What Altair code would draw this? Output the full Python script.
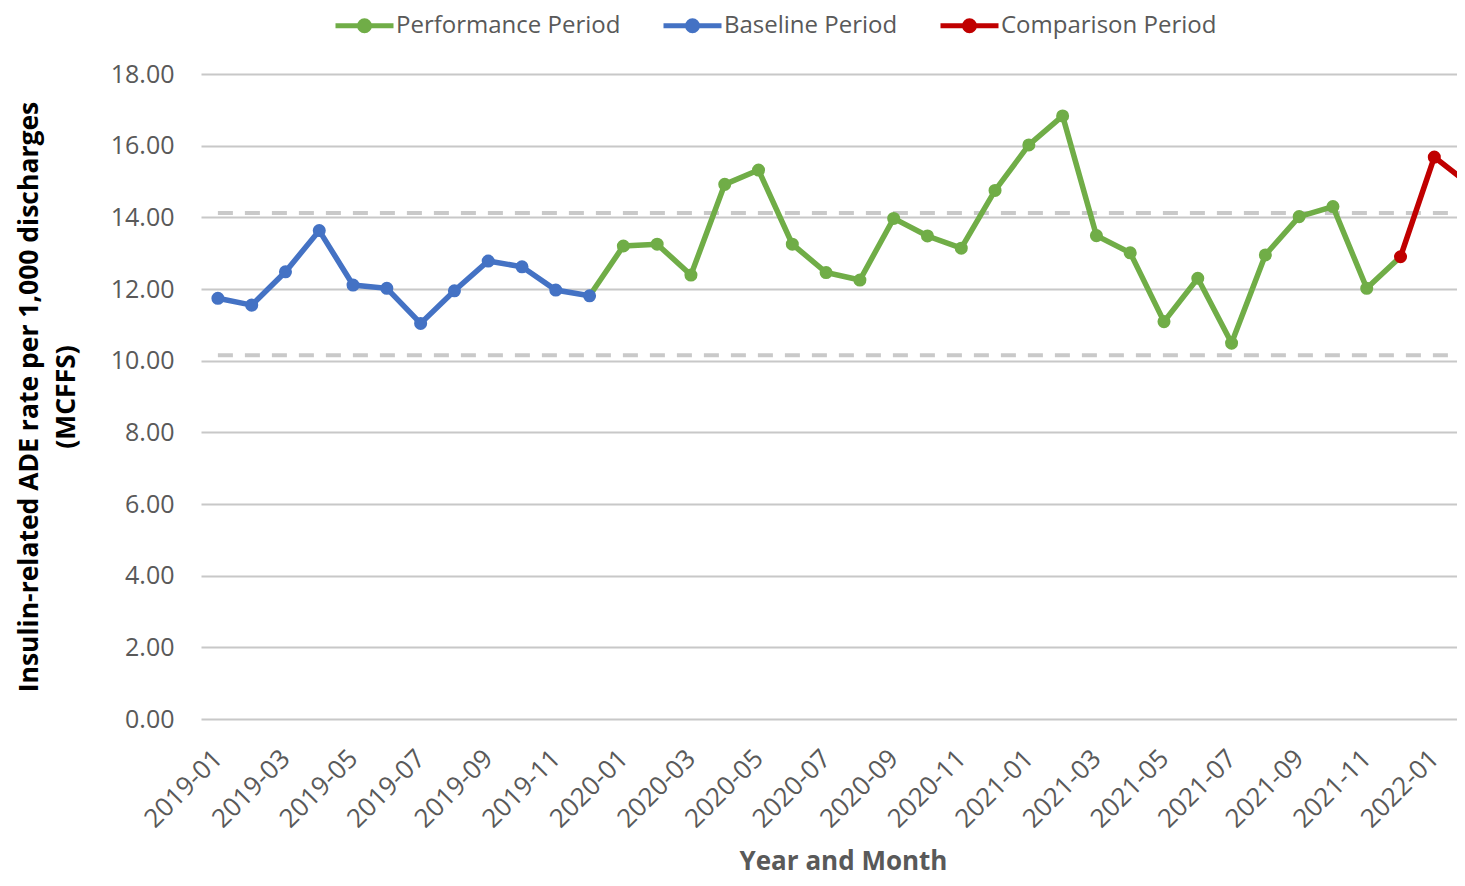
import altair as alt
import pandas as pd

# ---------------- data ----------------
all_months = [
    "2019-01", "2019-02", "2019-03", "2019-04", "2019-05", "2019-06",
    "2019-07", "2019-08", "2019-09", "2019-10", "2019-11", "2019-12",
    "2020-01", "2020-02", "2020-03", "2020-04", "2020-05", "2020-06",
    "2020-07", "2020-08", "2020-09", "2020-10", "2020-11", "2020-12",
    "2021-01", "2021-02", "2021-03", "2021-04", "2021-05", "2021-06",
    "2021-07", "2021-08", "2021-09", "2021-10", "2021-11", "2021-12",
    "2022-01", "2022-02",
]
x_tick_labels = [
    "2019-01", "2019-03", "2019-05", "2019-07", "2019-09", "2019-11",
    "2020-01", "2020-03", "2020-05", "2020-07", "2020-09", "2020-11",
    "2021-01", "2021-03", "2021-05", "2021-07", "2021-09", "2021-11",
    "2022-01",
]
y_ticks = [0, 2, 4, 6, 8, 10, 12, 14, 16, 18]

baseline_months = ["2019-01", "2019-02", "2019-03", "2019-04", "2019-05", "2019-06",
                   "2019-07", "2019-08", "2019-09", "2019-10", "2019-11", "2019-12"]
baseline_values = [11.74, 11.55, 12.48, 13.63, 12.11, 12.02,
                   11.04, 11.95, 12.78, 12.62, 11.97, 11.81]

performance_months = ["2020-01", "2020-02", "2020-03", "2020-04", "2020-05", "2020-06",
                      "2020-07", "2020-08", "2020-09", "2020-10", "2020-11", "2020-12",
                      "2021-01", "2021-02", "2021-03", "2021-04", "2021-05", "2021-06",
                      "2021-07", "2021-08", "2021-09", "2021-10", "2021-11"]
performance_values = [13.20, 13.25, 12.39, 14.92, 15.32, 13.25,
                      12.46, 12.25, 13.97, 13.48, 13.14, 14.75,
                      16.02, 16.83, 13.49, 13.01, 11.09, 12.30,
                      10.49, 12.95, 14.02, 14.30, 12.02]

comparison_months = ["2021-12", "2022-01", "2022-02"]
comparison_values = [12.90, 15.68, 14.95]

upper_limit = 14.12
lower_limit = 10.15

period_order = ["Performance Period", "Baseline Period", "Comparison Period"]
period_colors = ["#70ad47", "#4472c4", "#c00000"]

# ---------------- frames ----------------
def frame(ms, vs, p):
    return pd.DataFrame({"month": ms, "value": vs, "period": p})

base_df = frame(baseline_months, baseline_values, "Baseline Period")
perf_df = frame(performance_months, performance_values, "Performance Period")
comp_df = frame(comparison_months, comparison_values, "Comparison Period")
perf_line_df = pd.concat([
    base_df.tail(1).assign(period="Performance Period"),
    perf_df,
    comp_df.head(1).assign(period="Performance Period"),
], ignore_index=True)

limits_df = pd.DataFrame(
    [{"month": m, "value": v, "limit": name}
     for name, v in [("upper", upper_limit), ("lower", lower_limit)]
     for m in all_months]
)

FONT = "Open Sans"
GRAY = "#595959"
PLOT_W = 1256
FULL_W = 1284
PLOT_H = 645

x_enc = alt.X(
    "month:O",
    sort=all_months,
    scale=alt.Scale(domain=all_months, range=[0, FULL_W]),
    axis=alt.Axis(
        values=x_tick_labels, labelAngle=-45, labelAlign="right", labelBaseline="middle",
        labelFont=FONT, labelFontSize=26, labelColor=GRAY, labelPadding=35,
        ticks=False, domain=False, grid=False,
        title="Year and Month", titleFont=FONT, titleFontSize=26, titleFontWeight="bold",
        titleColor=GRAY, titleX=642, titleY=150, titleAlign="center",
        titleBaseline="alphabetic",
    ),
)
y_enc = alt.Y(
    "value:Q",
    scale=alt.Scale(domain=[0, 18], nice=False),
    axis=alt.Axis(
        values=y_ticks, format=".2f", gridColor="#c8c8c8", gridWidth=2,
        domain=False, ticks=False,
        labelFont=FONT, labelFontSize=25, labelColor=GRAY, labelPadding=27,
        title=["Insulin-related ADE rate per 1,000 discharges", "(MCFFS)"],
        titleFont=FONT, titleFontSize=26.5, titleFontWeight="bold", titleColor="black",
        titlePadding=30, titleLineHeight=37,
    ),
)

SYMBOL = "M-1,0L1,0M-0.17,0A0.17,0.17,0,1,1,0.17,0A0.17,0.17,0,1,1,-0.17,0Z"
legend_kwargs = dict(
    orient="none", legendX=132, legendY=-80, direction="horizontal", columns=3,
    title=None, symbolType=SYMBOL, symbolSize=3364, symbolStrokeWidth=5,
    labelFont=FONT, labelFontSize=24, labelColor=GRAY, labelOffset=0, labelLimit=0,
    columnPadding=32, symbolOpacity=1,
)
legend_encode = {"symbols": {"update": {
    "fill": {"scale": "color", "field": "value"},
    "stroke": {"scale": "color", "field": "value"},
    "opacity": {"value": 1},
}}}


def build(use_encode):
    lk = dict(legend_kwargs)
    if use_encode:
        lk["encode"] = legend_encode
    color_enc = alt.Color(
        "period:N",
        scale=alt.Scale(domain=period_order, range=period_colors),
        legend=alt.Legend(**lk),
    )
    limits = alt.Chart(limits_df).mark_line(
        color="#c9c9c9", strokeWidth=4, strokeDash=[15, 12], clip=True
    ).encode(x=x_enc, y=y_enc, detail="limit:N")

    def series(df_line, df_pts):
        ln = alt.Chart(df_line).mark_line(strokeWidth=5.5, clip=True).encode(
            x=x_enc, y=y_enc, color=color_enc)
        pt = alt.Chart(df_pts).mark_circle(size=170, opacity=1, clip=True).encode(
            x=x_enc, y=y_enc, color=color_enc)
        return [ln, pt]

    layers = [limits]
    layers += series(perf_line_df, perf_df)
    layers += series(base_df, base_df)
    layers += series(comp_df, comp_df)
    ch = alt.layer(*layers).properties(
        width=PLOT_W, height=PLOT_H,
        background="white",
        autosize=alt.AutoSizeParams(type="none"),
        padding={"left": 193, "top": 66, "right": 0, "bottom": 157},
    ).configure_view(stroke=None)
    return ch


try:
    chart = build(True)
    chart.to_dict()
except Exception:
    chart = build(False)

chart.save("out.html", embed_options={"renderer": "svg", "actions": False})
